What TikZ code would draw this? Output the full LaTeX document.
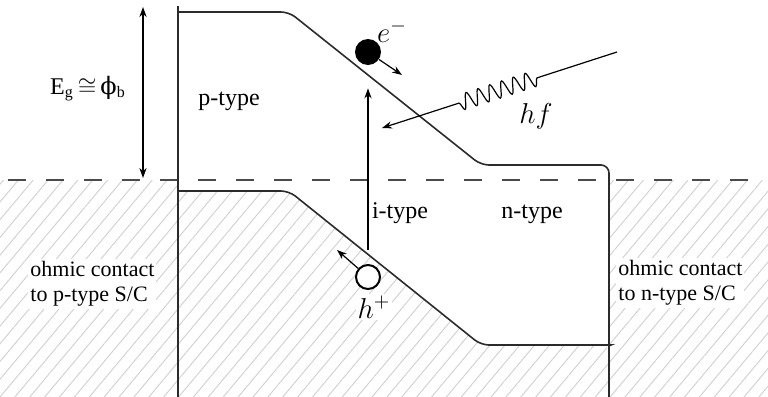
\documentclass[tikz,border=0pt]{standalone}
\usepackage{fontspec}
\setmainfont{Liberation Serif}
\newfontfamily\greekfont{DejaVu Serif}
\usepackage{tikz}
\usetikzlibrary{arrows.meta,patterns.meta,decorations.pathmorphing}
\definecolor{BandLine}{HTML}{2B2B2B}
\definecolor{HatchGray}{HTML}{CFCFCF}
\definecolor{DashGray}{HTML}{4A4A4A}

\begin{document}
\begin{tikzpicture}[x=0.5pt,y=-0.5pt,>={Stealth[length=5pt,width=3.6pt]},
  band/.style={draw=BandLine,line width=0.8pt,rounded corners=4pt},
  hatch/.style={pattern={Lines[angle=50,distance=5.7pt,line width=0.45pt]},pattern color=HatchGray},
  arr/.style={->,line width=0.6pt},
  lbl/.style={font=\fontsize{12}{14}\selectfont},
  contact/.style={font=\fontsize{11}{12.5}\selectfont,align=left,fill=white,inner sep=1pt,anchor=west},
  carrier/.style={font=\fontsize{14}{16}\selectfont}]
\useasboundingbox (0,0) rectangle (768,397);
\fill[hatch] (0,180) rectangle (178,397);
\fill[hatch] (609,180) rectangle (768,397);
\fill[hatch,rounded corners=4pt] (178,191) -- (289,191) -- (481,345) -- (609,345) -- (609,430) -- (178,430) -- cycle;
\draw[DashGray,line width=0.75pt,dash pattern=on 9pt off 10pt] (8,180) -- (768,180);
\draw[BandLine,line width=0.8pt] (178,397) -- (178,6);
\draw[band] (178,6) .. controls (178,12) .. (186,12) -- (289,12) -- (481,165) -- (609,165) -- (609,397);
\draw[band] (178,186) .. controls (178,191) .. (186,191) -- (289,191) -- (481,345) -- (603,345) .. controls (609,345) .. (609,351);
\node[circle,fill=black,minimum size=13pt,inner sep=0pt] (elec) at (368,52) {};
\node[circle,draw=black,line width=1pt,fill=white,minimum size=12pt,inner sep=0pt] (hole) at (368,277) {};
\node[carrier] (elab) at (392,31) {$e^-$};
\node[carrier,fill=white,inner sep=1pt] (hlab) at (374,307) {$h^+$};
\node[carrier] (hflab) at (536,116) {$hf$};
\node[lbl,anchor=base] (ptype) at (229,105) {p-type};
\node[lbl,anchor=base] (itype) at (400,218) {i-type};
\node[lbl,anchor=base] (ntype) at (532,218) {n-type};
\node[lbl,anchor=base,inner sep=0pt] (gap) at (88,94) {E\textsubscript{g}\,$\cong$\,{\greekfont ϕ}\textsubscript{b}};
\node[contact] (pcontact) at (28,284) {ohmic contact\\to p-type S/C};
\node[contact] (ncontact) at (616,283) {ohmic contact\\to n-type S/C};
\coordinate (gaptop) at (143,7);
\coordinate (gapbot) at (143,178);
\coordinate (edrift) at (402,75);
\coordinate (hdrift) at (337,250);
\coordinate (photon) at (617,52);
\coordinate (absorb) at (382,128);
\draw[<->,line width=0.6pt] (gapbot) -- (gaptop);
\draw[arr] (elec) -- (edrift);
\draw[arr] (hole) -- (hdrift);
\draw[arr,shorten <=7pt,shorten >=11.5pt] (hole) -- (elec);
\draw[arr,decorate,decoration={snake,segment length=6.2pt,amplitude=4pt,pre length=42pt,post length=38pt}] (photon) -- (absorb);
\end{tikzpicture}
\end{document}
